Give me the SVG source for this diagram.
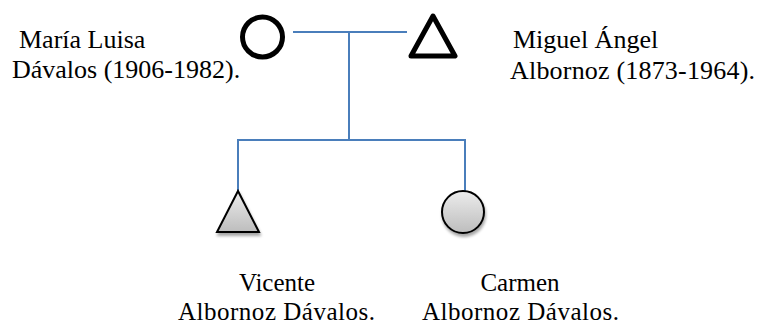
<svg xmlns="http://www.w3.org/2000/svg" width="757" height="326" viewBox="0 0 757 326">
  <style>
    .label { font-family: "Liberation Serif", "Times New Roman", serif; font-size: 26px; fill: #000; }
    .small { font-size: 25px; }
    .link { stroke: #4a7ebb; stroke-width: 2; fill: none; }
    .parent { fill: none; stroke: #000; stroke-width: 5; stroke-linejoin: round; }
    .child { fill: url(#childFill); stroke: #000; stroke-width: 2; filter: url(#drop); }
  </style>
  <defs>
    <linearGradient id="childFill" x1="0" y1="0" x2="0" y2="1">
      <stop offset="0" stop-color="#ececec"/>
      <stop offset="1" stop-color="#bdbdbd"/>
    </linearGradient>
    <filter id="drop" x="-30%" y="-30%" width="160%" height="170%">
      <feGaussianBlur in="SourceAlpha" stdDeviation="1.5"/>
      <feOffset dx="1" dy="3" result="off"/>
      <feComponentTransfer><feFuncA type="linear" slope="0.35"/></feComponentTransfer>
      <feMerge><feMergeNode/><feMergeNode in="SourceGraphic"/></feMerge>
    </filter>
  </defs>

  <g id="connectors">
    <line class="link" x1="293" y1="32" x2="407" y2="32"/>
    <line class="link" x1="349" y1="32" x2="349" y2="140"/>
    <polyline class="link" points="238,191 238,140 465,140 465,191"/>
  </g>

  <g id="maria-luisa">
    <circle class="parent" cx="262.5" cy="37" r="20"/>
    <text class="label" x="19" y="48">María Luisa</text>
    <text class="label" x="12" y="78">Dávalos (1906-1982).</text>
  </g>

  <g id="miguel-angel">
    <polygon class="parent" points="433,16 455,56 411,56"/>
    <text class="label" x="513" y="48">Miguel Ángel</text>
    <text class="label" x="510" y="79" textLength="245" lengthAdjust="spacing">Albornoz (1873-1964).</text>
  </g>

  <g id="vicente">
    <polygon class="child" points="238,191 259,232 217,232"/>
    <text class="label small" x="277" y="291" text-anchor="middle">Vicente</text>
    <text class="label small" x="178" y="320" textLength="197" lengthAdjust="spacing">Albornoz Dávalos.</text>
  </g>

  <g id="carmen">
    <circle class="child" cx="463" cy="212" r="21"/>
    <text class="label small" x="520" y="291" text-anchor="middle">Carmen</text>
    <text class="label small" x="422" y="320" textLength="197" lengthAdjust="spacing">Albornoz Dávalos.</text>
  </g>
</svg>
